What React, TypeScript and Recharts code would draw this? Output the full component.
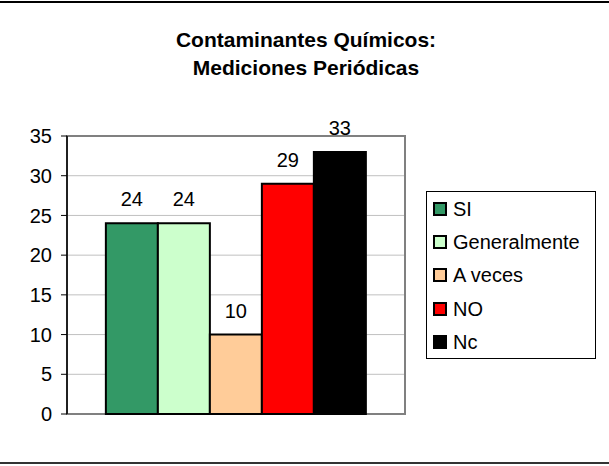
import React from 'react';
import { BarChart, Bar, XAxis, YAxis, CartesianGrid, Legend, LabelList, ReferenceArea } from 'recharts';

const titleLines = ['Contaminantes Químicos:', 'Mediciones Periódicas'];
const categories = ['Contaminantes Químicos'];
const seriesNames = ['SI', 'Generalmente', 'A veces', 'NO', 'Nc'];
const seriesValues = [24, 24, 10, 29, 33];
const seriesColors = ['#339966', '#CCFFCC', '#FFCC99', '#FF0000', '#000000'];
const yTicks = [0, 5, 10, 15, 20, 25, 30, 35];

const FONT = "'Liberation Sans', Arial, sans-serif";

const data = categories.map((c) => {
  const row: Record<string, string | number> = { cat: c };
  seriesNames.forEach((n, i) => {
    row[n] = seriesValues[i];
  });
  return row;
});

const LegendBox = (props: any) => {
  const payload = [...(props.payload || [])].sort(
    (a: any, b: any) => seriesNames.indexOf(a.value) - seriesNames.indexOf(b.value)
  );
  return (
    <div
      style={{
        width: 170,
        height: 168,
        boxSizing: 'border-box',
        border: '1px solid #000',
        background: '#fff',
        fontFamily: FONT,
        fontSize: 20,
        color: '#000',
      }}
    >
      {payload.map((p: any, i: number) => (
        <div
          key={i}
          style={{ height: 33.4, display: 'flex', alignItems: 'center', paddingLeft: 6 }}
        >
          <span
            style={{
              display: 'inline-block',
              width: 10,
              height: 10,
              background: p.color,
              border: '2px solid #000',
              marginRight: 6,
            }}
          />
          <span style={{ lineHeight: '20px' }}>{p.value}</span>
        </div>
      ))}
    </div>
  );
};

export default function App() {
  return (
    <div style={{ position: 'absolute', left: 0, top: 0, width: 609, height: 466, background: '#fff' }}>
      <div
        style={{
          position: 'absolute',
          left: 0,
          top: 1,
          width: 609,
          height: 463,
          boxSizing: 'border-box',
          borderTop: '2px solid #000',
          borderBottom: '2px solid #333',
        }}
      />
      <div
        style={{
          position: 'absolute',
          left: 0,
          top: 26,
          width: 612,
          textAlign: 'center',
          fontFamily: FONT,
          fontWeight: 'bold',
          fontSize: 21,
          lineHeight: '28px',
          color: '#000',
        }}
      >
        {titleLines.map((t, i) => (
          <div key={i}>{t}</div>
        ))}
      </div>
      <div style={{ position: 'absolute', left: 0, top: 0 }}>
        <BarChart
          width={609}
          height={466}
          data={data}
          margin={{ top: 136, right: 204, bottom: 52, left: 0 }}
          barGap={0}
          barCategoryGap="11.5%"
        >
          <CartesianGrid vertical={false} stroke="#c0c0c0" strokeWidth={1} />
          <ReferenceArea y1={0} y2={35} fill="none" stroke="#808080" strokeWidth={2} />
          <XAxis dataKey="cat" hide />
          <YAxis
            domain={[0, 35]}
            ticks={yTicks}
            width={67}
            tickSize={6}
            tickMargin={9}
            axisLine={{ stroke: '#000', strokeWidth: 1.5 }}
            tickLine={{ stroke: '#000', strokeWidth: 1 }}
            tick={{ fill: '#000', fontSize: 20, fontFamily: FONT }}
            interval={0}
          />
          {seriesNames.map((n, i) => (
            <Bar
              key={n}
              dataKey={n}
              name={n}
              fill={seriesColors[i]}
              stroke="#000"
              strokeWidth={2}
              isAnimationActive={false}
            >
              <LabelList
                dataKey={n}
                position="top"
                offset={17}
                fill="#000"
                fontSize={20}
                fontFamily={FONT}
              />
            </Bar>
          ))}
          <Legend
            layout="vertical"
            align="center"
            verticalAlign="middle"
            content={<LegendBox />}
            wrapperStyle={{ left: 426, top: 191, width: 170, height: 168 }}
          />
        </BarChart>
      </div>
    </div>
  );
}
